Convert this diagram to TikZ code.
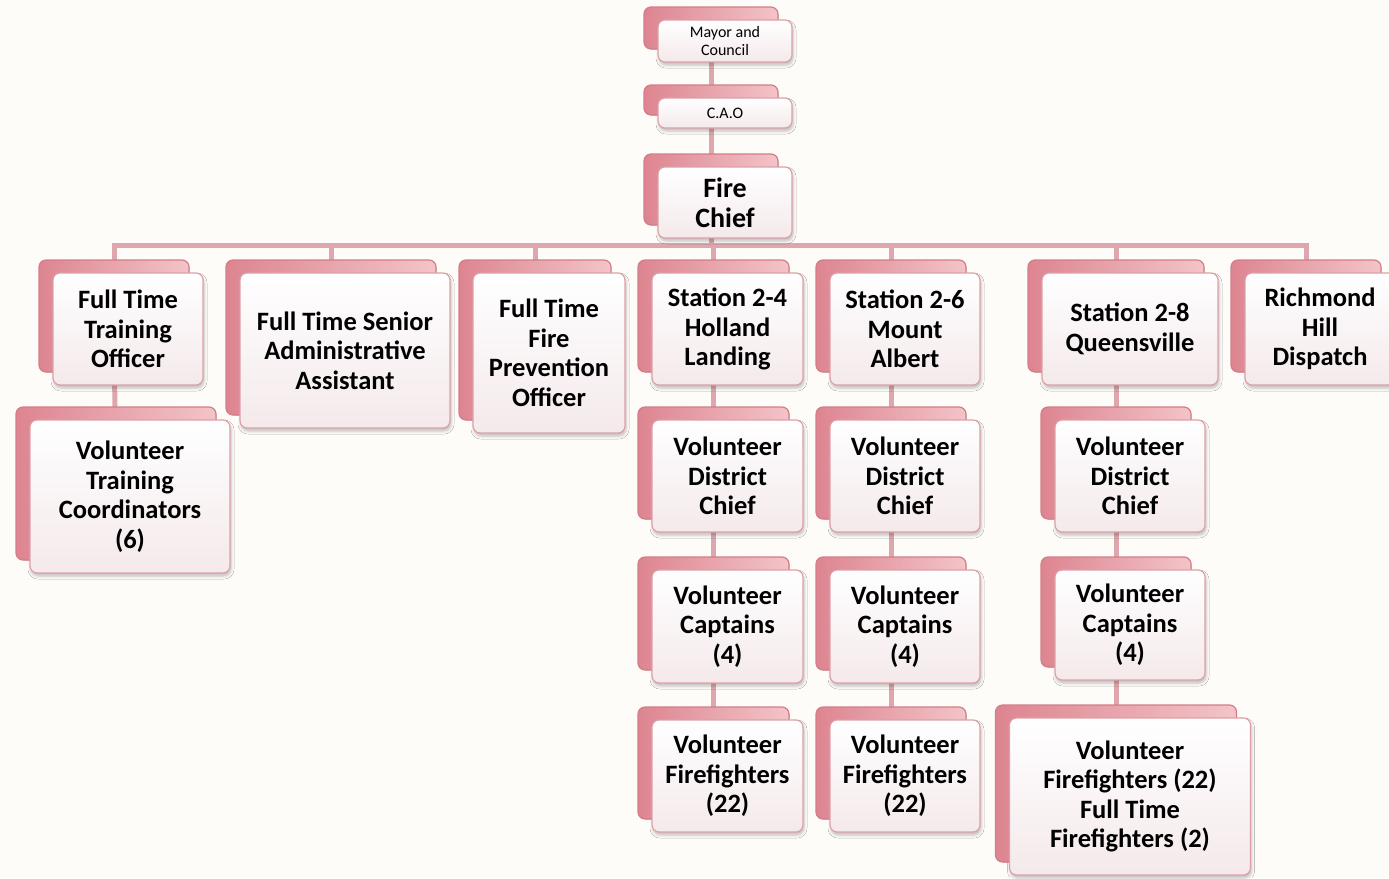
\documentclass[tikz,border=0pt]{standalone}
\usepackage{fontspec}
\setmainfont{Carlito}
\usetikzlibrary{shadows,shadows.blur,backgrounds}
\definecolor{paper}{HTML}{FDFCF9}
\definecolor{frontfill}{HTML}{F4E9EB}
\definecolor{frontedge}{HTML}{DDA0A8}
\definecolor{backdark}{HTML}{DD8591}
\definecolor{backlight}{HTML}{F3C4C8}
\definecolor{backedge}{HTML}{D47D88}
\definecolor{linkpink}{HTML}{DEA7AD}

\begin{document}
\begin{tikzpicture}[x=1pt,y=-1pt,
        unit/.style={draw=frontedge, line width=1.2pt, rounded corners=7pt,
            top color=white, bottom color=frontfill, align=center, inner sep=0pt,
            font=\fontsize{26.5}{29.5}\selectfont\bfseries,
            blur shadow={shadow xshift=1pt, shadow yshift=-3pt, shadow blur radius=3pt, shadow opacity=25},
            copy shadow={shadow xshift=-14pt, shadow yshift=13pt, draw=backedge, line width=1.2pt,
                left color=backdark, right color=backlight}},
        small/.style={unit, font=\fontsize{16}{17.5}\selectfont},
        link/.style={draw=linkpink, line width=5pt}]
        \useasboundingbox (0,0) rectangle (1389,878);

        % top of the chart
        \node[small, minimum width=134pt, minimum height=42pt] (mayor) at (725,41) {Mayor and\\Council};
        \node[small, minimum width=134pt, minimum height=30pt] (cao) at (725,113) {C.A.O};
        \node[unit, font=\fontsize{28}{30}\selectfont\bfseries, minimum width=134pt, minimum height=71pt] (chief) at (725,202.5) {Fire\\Chief};

        % second row
        \node[unit, minimum width=150pt, minimum height=112pt] (train) at (128,329) {Full Time\\Training\\Officer};
        \node[unit, minimum width=210pt, minimum height=155pt] (admin) at (345,350.5) {Full Time Senior\\Administrative\\Assistant};
        \node[unit, minimum width=152pt, minimum height=160pt] (prev) at (549,353) {Full Time\\Fire\\Prevention\\Officer};
        \node[unit, minimum width=151pt, minimum height=112pt] (st24) at (727.5,329) {Station 2-4\\Holland\\Landing};
        \node[unit, minimum width=150pt, minimum height=112pt] (st26) at (905,329) {Station 2-6\\Mount\\Albert};
        \node[unit, minimum width=176pt, minimum height=112pt] (st28) at (1130,329) {Station 2-8\\Queensville};
        \node[unit, minimum width=150pt, minimum height=112pt] (disp) at (1320,329) {Richmond\\Hill\\Dispatch};

        % under training officer
        \node[unit, minimum width=200pt, minimum height=153pt] (coord) at (130,496.5) {Volunteer\\Training\\Coordinators\\(6)};

        % station 2-4
        \node[unit, minimum width=151pt, minimum height=112pt] (dc24) at (727.5,476) {Volunteer\\District\\Chief};
        \node[unit, minimum width=151pt, minimum height=113pt] (cap24) at (727.5,626.5) {Volunteer\\Captains\\(4)};
        \node[unit, minimum width=151pt, minimum height=112pt] (ff24) at (727.5,776) {Volunteer\\Firefighters\\(22)};

        % station 2-6
        \node[unit, minimum width=150pt, minimum height=112pt] (dc26) at (905,476) {Volunteer\\District\\Chief};
        \node[unit, minimum width=150pt, minimum height=113pt] (cap26) at (905,626.5) {Volunteer\\Captains\\(4)};
        \node[unit, minimum width=150pt, minimum height=112pt] (ff26) at (905,776) {Volunteer\\Firefighters\\(22)};

        % station 2-8
        \node[unit, minimum width=150pt, minimum height=112pt] (dc28) at (1130,476) {Volunteer\\District\\Chief};
        \node[unit, minimum width=150pt, minimum height=110pt] (cap28) at (1130,625) {Volunteer\\Captains\\(4)};
        \node[unit, minimum width=241pt, minimum height=157pt] (ff28) at (1130,796.5) {Volunteer\\Firefighters (22)\\Full Time\\Firefighters (2)};

        \begin{scope}[on background layer]
            \fill[paper] (0,0) rectangle (1389,878);
            \draw[link] ([xshift=-14pt]mayor.center) -- ([xshift=-14pt]cao.center) -- ([xshift=-14pt]chief.center);
            \foreach \n in {train,admin,prev,st24,st26,st28,disp}
                \draw[link] ([xshift=-14pt]chief.center) -- ++(0,42.5) -| ([xshift=-14pt]\n.center);
            \draw[link] ([xshift=-14pt]train.center) -- ([xshift=-14pt]coord.center);
            \foreach \s in {24,26,28}
                \draw[link] ([xshift=-14pt]st\s.center) -- ([xshift=-14pt]dc\s.center) -- ([xshift=-14pt]cap\s.center) -- ([xshift=-14pt]ff\s.center);
        \end{scope}
    \end{tikzpicture}
\end{document}
